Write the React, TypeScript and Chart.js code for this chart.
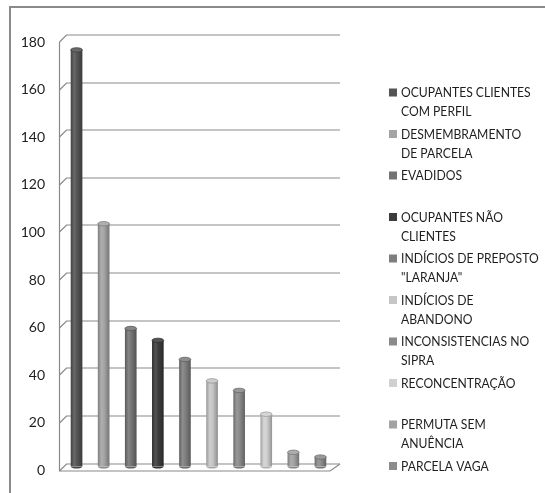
import React, { useEffect, useRef } from "react";
import { Chart, registerables } from "chart.js";

Chart.register(...registerables);

// ---- data ----
const categories: string[] = [
  "OCUPANTES CLIENTES\nCOM PERFIL",
  "DESMEMBRAMENTO\nDE PARCELA",
  "EVADIDOS",
  "OCUPANTES NÃO\nCLIENTES",
  "INDÍCIOS DE PREPOSTO\n\"LARANJA\"",
  "INDÍCIOS DE\nABANDONO",
  "INCONSISTENCIAS NO\nSIPRA",
  "RECONCENTRAÇÃO",
  "PERMUTA SEM\nANUÊNCIA",
  "PARCELA VAGA",
];
const values: number[] = [175, 102, 58, 53, 45, 36, 32, 22, 6, 4];
const colors: string[] = [
  "#545454",
  "#a4a4a4",
  "#747474",
  "#3c3c3c",
  "#7e7e7e",
  "#c6c6c6",
  "#8a8a8a",
  "#d0d0d0",
  "#a2a2a2",
  "#8c8c8c",
];
const yTicks: number[] = [0, 20, 40, 60, 80, 100, 120, 140, 160, 180];

const FONT = "Lato";
const DEPTH = 3.5;

function shade(hex: string, amt: number): string {
  const n = parseInt(hex.slice(1), 16);
  let r = (n >> 16) & 255, g = (n >> 8) & 255, b = n & 255;
  const f = (c: number) => Math.max(0, Math.min(255, Math.round(amt >= 0 ? c + (255 - c) * amt : c * (1 + amt))));
  return `rgb(${f(r)},${f(g)},${f(b)})`;
}

const framePlugin = {
  id: "frame",
  beforeDraw(chart: any) {
    const ctx = chart.ctx;
    ctx.save();
    ctx.fillStyle = "#ffffff";
    ctx.fillRect(0, 0, chart.width, chart.height);
    ctx.strokeStyle = "#8a8a8a";
    ctx.lineWidth = 2;
    ctx.beginPath();
    ctx.moveTo(10, chart.height + 2);
    ctx.lineTo(10, 7);
    ctx.lineTo(chart.width + 2, 7);
    ctx.stroke();
    ctx.restore();
  },
};

const wallPlugin = {
  id: "wall",
  beforeDatasetsDraw(chart: any) {
    const ctx = chart.ctx;
    const y = chart.scales.y;
    const { left, right } = chart.chartArea;
    ctx.save();
    ctx.strokeStyle = "#8a8a8a";
    ctx.lineWidth = 1.2;
    for (const t of y.ticks) {
      const yp = Math.round(y.getPixelForValue(t.value)) + 0.5;
      ctx.beginPath();
      ctx.moveTo(left - DEPTH, yp + DEPTH);
      ctx.lineTo(left + DEPTH, yp - DEPTH);
      ctx.lineTo(right + 6, yp - DEPTH);
      ctx.stroke();
    }
    const yTop = Math.round(y.getPixelForValue(y.max)) + 0.5;
    const y0 = Math.round(y.getPixelForValue(0)) + 0.5;
    ctx.beginPath();
    ctx.moveTo(left - DEPTH, yTop + DEPTH);
    ctx.lineTo(left - DEPTH, y0 + DEPTH);
    ctx.lineTo(right - 4, y0 + DEPTH);
    ctx.lineTo(right + 6, y0 - DEPTH);
    ctx.stroke();
    ctx.restore();
  },
  afterDatasetsDraw(chart: any) {
    const ctx = chart.ctx;
    const meta = chart.getDatasetMeta(0);
    ctx.save();
    meta.data.forEach((el: any, i: number) => {
      const { x, y, base, width } = el.getProps(["x", "y", "base", "width"], true);
      const rx = width / 2;
      const c = colors[i];
      ctx.fillStyle = shade(c, -0.15);
      ctx.beginPath();
      ctx.ellipse(x, base, rx, 2, 0, 0, Math.PI);
      ctx.fill();
      ctx.fillStyle = shade(c, 0.12);
      ctx.strokeStyle = shade(c, -0.25);
      ctx.lineWidth = 0.8;
      ctx.beginPath();
      ctx.ellipse(x, y, rx, 2.2, 0, 0, Math.PI * 2);
      ctx.fill();
      ctx.stroke();
    });
    ctx.restore();
  },
};

const legendPlugin = {
  id: "customLegend",
  afterDraw(chart: any) {
    const ctx = chart.ctx;
    ctx.save();
    ctx.font = `13.5px ${FONT}`;
    ctx.textBaseline = "middle";
    ctx.textAlign = "left";
    const x0 = 389;
    const yStart = 93;
    const step = 41.5;
    const lineH = 19;
    categories.forEach((name, i) => {
      const yc = yStart + i * step;
      ctx.fillStyle = colors[i];
      ctx.fillRect(x0, yc - 4.5, 8, 8);
      ctx.fillStyle = "#1e1e1e";
      name.split("\n").forEach((line, j) => {
        const w = ctx.measureText(line).width * 0.9;
        ctx.fillText(line, x0 + 12, yc + j * lineH, w);
      });
    });
    ctx.restore();
  },
};

export default function App() {
  const ref = useRef<HTMLCanvasElement | null>(null);
  useEffect(() => {
    if (!ref.current) return;
    const chart = new Chart(ref.current, {
      type: "bar",
      data: {
        labels: categories.map((c) => c.replace("\n", " ")),
        datasets: [
          {
            data: values,
            backgroundColor: (ctx: any) => {
              const ch = ctx.chart;
              const c = colors[ctx.dataIndex] || "#888888";
              const xs = ch.scales && ch.scales.x;
              if (!xs || !ch.chartArea) return c;
              const cx = xs.getPixelForValue(ctx.dataIndex);
              const g = ch.ctx.createLinearGradient(cx - 6, 0, cx + 6, 0);
              g.addColorStop(0, shade(c, -0.25));
              g.addColorStop(0.3, shade(c, 0.12));
              g.addColorStop(0.55, c);
              g.addColorStop(1, shade(c, -0.3));
              return g;
            },
            borderWidth: 0,
            barPercentage: 0.43,
            categoryPercentage: 1,
          },
        ],
      },
      options: {
        responsive: false,
        animation: false,
        layout: { padding: { left: 0, right: 211, top: 38, bottom: 25 } },
        plugins: { legend: { display: false }, tooltip: { enabled: false } },
        scales: {
          x: { display: false },
          y: {
            min: 0,
            max: 180,
            afterFit: (s: any) => {
              s.width = 63;
            },
            afterBuildTicks: (s: any) => {
              s.ticks = yTicks.map((v) => ({ value: v }));
            },
            grid: { display: false, drawTicks: false },
            border: { display: false },
            ticks: {
              padding: 18,
              labelOffset: 4,
              color: "#1e1e1e",
              font: { family: FONT, size: 14 },
            },
          },
        },
      },
      plugins: [framePlugin, wallPlugin, legendPlugin],
    });
    return () => chart.destroy();
  }, []);
  return (
    <div style={{ position: "fixed", left: 0, top: 0, width: 545, height: 493 }}>
      <canvas ref={ref} width={545} height={493} style={{ display: "block" }} />
    </div>
  );
}
